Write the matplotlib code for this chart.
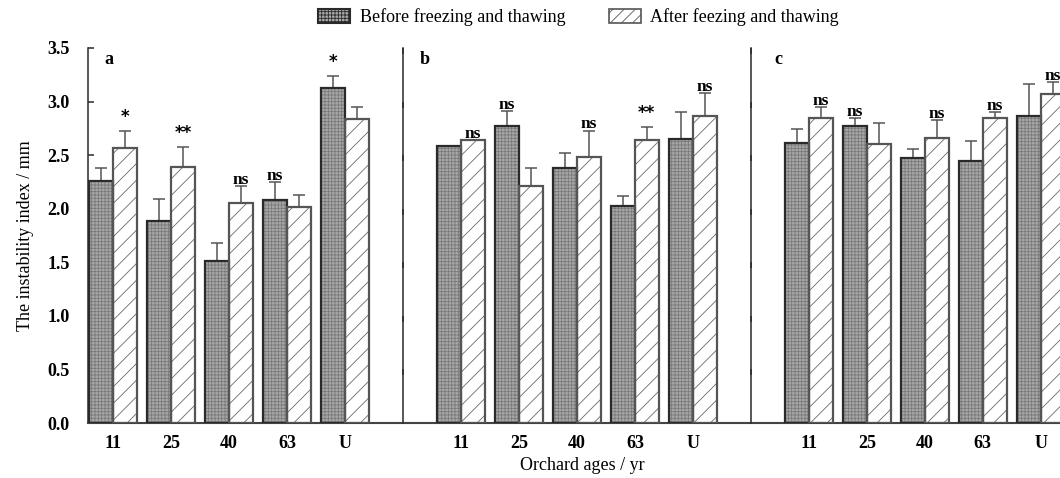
import numpy as np
import matplotlib.pyplot as plt
from matplotlib.patches import Patch

plt.rcParams['font.family'] = ['Liberation Serif', 'DejaVu Serif']
plt.rcParams['hatch.linewidth'] = 0.6

ages = ["11", "25", "40", "63", "U"]
panels = ["a", "b", "c"]

# instability index (mm), before / after freezing and thawing
before_a = [2.26, 1.89, 1.51, 2.08, 3.13]
before_a_err = [0.12, 0.20, 0.17, 0.17, 0.11]
after_a = [2.57, 2.39, 2.05, 2.02, 2.84]
after_a_err = [0.16, 0.19, 0.16, 0.11, 0.11]
sig_a = ["*", "**", "ns", "ns", "*"]

before_b = [2.59, 2.77, 2.38, 2.03, 2.65]
before_b_err = [0.0, 0.14, 0.14, 0.09, 0.25]
after_b = [2.64, 2.21, 2.48, 2.64, 2.87]
after_b_err = [0.0, 0.17, 0.25, 0.12, 0.21]
sig_b = ["ns", "ns", "ns", "**", "ns"]

before_c = [2.61, 2.77, 2.47, 2.45, 2.87]
before_c_err = [0.13, 0.08, 0.09, 0.18, 0.29]
after_c = [2.85, 2.60, 2.66, 2.85, 3.07]
after_c_err = [0.10, 0.20, 0.17, 0.05, 0.11]
sig_c = ["ns", "ns", "ns", "ns", "ns"]

before = [before_a, before_b, before_c]
before_err = [before_a_err, before_b_err, before_c_err]
after = [after_a, after_b, after_c]
after_err = [after_a_err, after_b_err, after_c_err]
sigs = [sig_a, sig_b, sig_c]

fig = plt.figure(figsize=(10.6, 4.78), dpi=100)
ax = fig.add_axes([88 / 1060, 55 / 478, 972 / 1060, 375 / 478])

w = 0.41
dark = '#2a2a2a'
grey = '#555555'
fill_before = '#a8a8a8'
stipple = '#7a7a7a'

ticks = []
ticklabels = []
for p in range(3):
    x = np.arange(5) + p * 6
    yb = np.array(before[p])
    ya = np.array(after[p])
    eb = np.array(before_err[p])
    ea = np.array(after_err[p])

    # before: stippled dark bars
    ax.bar(x, yb, width=-w, align='edge', facecolor=fill_before, edgecolor=stipple,
           hatch='+++++', linewidth=0, zorder=2)
    ax.bar(x, yb, width=-w, align='edge', fill=False, edgecolor=dark, linewidth=1.6, zorder=3)
    # after: white hatched bars
    ax.bar(x, ya, width=w, align='edge', facecolor='white', edgecolor='#6a6a6a',
           hatch='//', linewidth=0, zorder=2)
    ax.bar(x, ya, width=w, align='edge', fill=False, edgecolor=grey, linewidth=1.6, zorder=3)

    xb = x - w / 2
    xa = x + w / 2
    mb = eb > 0
    ma = ea > 0
    ax.errorbar(xb[mb], yb[mb], yerr=[np.zeros(mb.sum()), eb[mb]], fmt='none',
                ecolor=grey, elinewidth=1.1, capsize=4.3, capthick=1.1, zorder=1)
    ax.errorbar(xa[ma], ya[ma], yerr=[np.zeros(ma.sum()), ea[ma]], fmt='none',
                ecolor=grey, elinewidth=1.1, capsize=4.3, capthick=1.1, zorder=1)

    # significance marks above the taller bar
    for i in range(5):
        tb = yb[i] + eb[i]
        ta = ya[i] + ea[i]
        if tb > ta:
            xs, ys = xb[i], tb
        else:
            xs, ys = xa[i], ta
        lab = sigs[p][i]
        if lab == "ns":
            ax.annotate(lab, (xs, ys), xytext=(0, 1.5), textcoords='offset points',
                        ha='center', va='baseline', fontsize=12.5, fontweight='bold')
        else:
            ax.annotate(lab, (xs, ys), xytext=(0, 10), textcoords='offset points',
                        ha='center', va='center', fontsize=12,
                        fontweight='bold', family='DejaVu Sans')

    ticks += list(x)
    ticklabels += ages

# panel separators with inward ticks
yt = np.arange(0, 3.51, 0.5)
for sep in [5, 11]:
    ax.plot([sep, sep], [0, 3.5], color=dark, lw=1.1, clip_on=False, zorder=4)
    ax.plot(np.full(len(yt) - 1, sep), yt[1:], ls='none', marker=3, ms=4,
            mew=1.1, color=dark, clip_on=False, zorder=4)

for lx, lab in zip([-0.07, 5.37, 11.47], panels):
    ax.text(lx, 3.39, lab, ha='center', va='center', fontsize=13, fontweight='bold')

ax.set_xlim(-0.431, 16.33)
ax.set_ylim(0, 3.5)
ax.set_yticks(yt)
ax.set_yticklabels([f"{v:.1f}" for v in yt], fontweight='bold', fontsize=13)
ax.set_xticks(ticks)
ax.set_xticklabels(ticklabels, fontweight='bold', fontsize=13)
ax.tick_params(axis='y', direction='in', length=4, width=1.1, color=dark, pad=13)
ax.tick_params(axis='x', length=0, pad=9)
for s in ['top', 'right']:
    ax.spines[s].set_visible(False)
ax.spines['left'].set_color(dark)
ax.spines['left'].set_linewidth(1.1)
ax.spines['bottom'].set_color('#444444')
ax.spines['bottom'].set_linewidth(1.5)

ax.set_ylabel("The instability index / mm", fontsize=13, labelpad=10)
fig.text(582 / 1060, 1 - 465 / 478, "Orchard ages / yr", ha='center', va='center', fontsize=13)

handles = [
    Patch(facecolor=fill_before, edgecolor=dark, hatch='+++++', linewidth=1.5),
    Patch(facecolor='white', edgecolor=grey, hatch='///', linewidth=1.2),
]
fig.legend(handles, ["Before freezing and thawing", "After feezing and thawing"],
           loc='center', bbox_to_anchor=(0.546, 0.964), ncol=2, frameon=False,
           fontsize=13, handlelength=1.75, handleheight=0.8, handletextpad=0.55,
           columnspacing=2.4)

fig.savefig("out.png", dpi=100)
